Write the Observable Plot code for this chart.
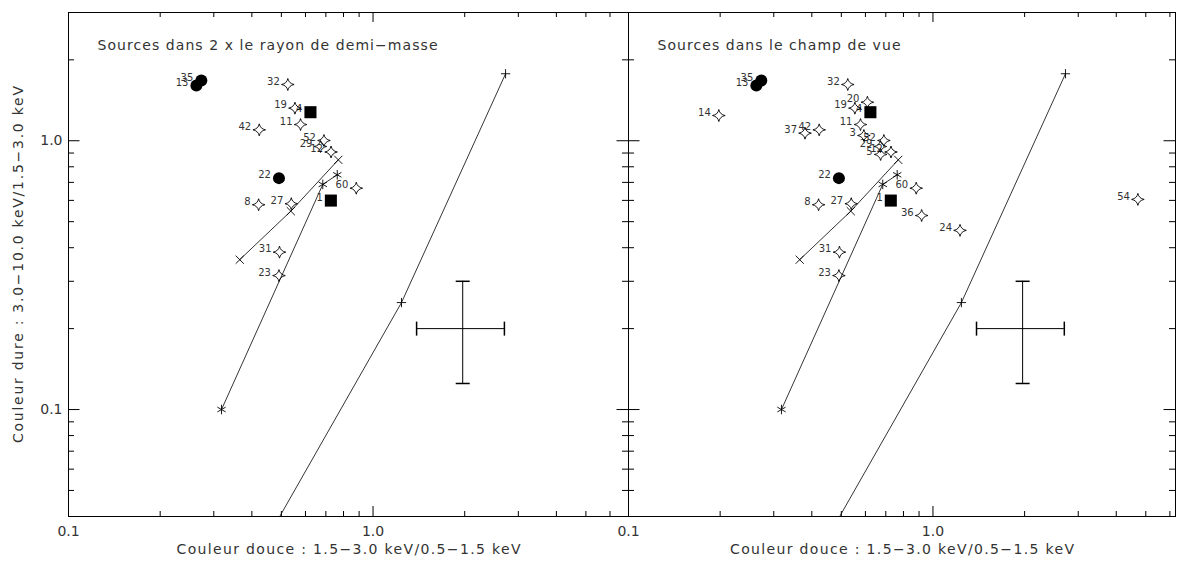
<!DOCTYPE html>
<html>
<head>
<meta charset="utf-8">
<script src="https://cdn.jsdelivr.net/npm/d3@7"></script>
<script src="https://cdn.jsdelivr.net/npm/@observablehq/plot@0.6"></script>
<style>
  html, body { margin: 0; padding: 0; background: #fff; overflow: hidden; }
  #wrap { position: relative; width: 1177px; height: 563px; }
  #wrap svg { position: absolute; top: 0; }
</style>
</head>
<body>
<div id="wrap"></div>
<script>
// ---------------- DATA ----------------
const sourceId   = ["13","35","32","19","4","11","42","52","29","12","22","60","1","8","27","31","23",
                    "14","37","20","3","5","36","24","54"];
const softColor  = [0.263,0.273,0.525,0.554,0.623,0.578,0.423,0.690,0.672,0.728,0.491,0.881,0.727,0.421,0.539,0.493,0.491,
                    0.198,0.380,0.609,0.593,0.673,0.918,1.227,4.71];
const hardColor  = [1.605,1.675,1.619,1.322,1.277,1.149,1.098,1.002,0.952,0.908,0.726,0.666,0.599,0.578,0.583,0.385,0.315,
                    1.241,1.067,1.391,1.046,0.889,0.527,0.464,0.605];
const sourceType = ["circle","circle","diamond","diamond","square","diamond","diamond","diamond","diamond","diamond","circle","diamond","square","diamond","diamond","diamond","diamond",
                    "diamond","diamond","diamond","diamond","diamond","diamond","diamond","diamond"];
const inHalfMass = [true,true,true,true,true,true,true,true,true,true,true,true,true,true,true,true,true,
                    false,false,false,false,false,false,false,false];

// model tracks
const trackTimesX = [0.365, 0.537, 0.769];
const trackTimesY = [0.361, 0.547, 0.849];
const trackStarX  = [0.318, 0.684, 0.763];
const trackStarY  = [0.100, 0.688, 0.747];
const trackPlusX  = [0.390, 1.240, 2.724];
const trackPlusY  = [0.025, 0.250, 1.775];

// typical error bar
const errX  = [1.97];
const errXlo = [1.39];
const errXhi = [2.70];
const errY  = [0.200];
const errYlo = [0.125];
const errYhi = [0.300];

// axes
const xMajorTicks = [0.1, 1];
const xTickLabels = ["0.1", "1.0"];
const xMinorTicks = [0.2,0.3,0.4,0.5,0.6,0.7,0.8,0.9,2,3,4,5,6];
const yMajorTicks = [0.1, 1];
const yTickLabels = ["0.1", "1.0"];
const yMinorTicks = [0.05,0.06,0.07,0.08,0.09,0.2,0.3,0.4,0.5,0.6,0.7,0.8,0.9,2];

const panelTitles = ["Sources dans 2 x le rayon de demi\u2212masse", "Sources dans le champ de vue"];
const xTitle = "Couleur douce : 1.5\u22123.0 keV/0.5\u22121.5 keV";
const yTitle = "Couleur dure : 3.0\u221210.0 keV/1.5\u22123.0 keV";

// ---------------- BUILD ----------------
const sources = sourceId.map((id, i) => ({id, x: softColor[i], y: hardColor[i], type: sourceType[i], core: inHalfMass[i]}));
const mkTrack = (xs, ys) => xs.map((x, i) => ({x, y: ys[i]}));
const trackTimes = mkTrack(trackTimesX, trackTimesY);
const trackStar  = mkTrack(trackStarX, trackStarY);
const trackPlus  = mkTrack(trackPlusX, trackPlusY);
const err = errX.map((x, i) => ({x, y: errY[i], xlo: errXlo[i], xhi: errXhi[i], ylo: errYlo[i], yhi: errYhi[i]}));

// custom symbols
const astroid = {
  draw(ctx, size) {
    const r = Math.sqrt(size / Math.PI), k = 0.16 * r, ry = 0.95 * r;
    ctx.moveTo(0, -ry);
    ctx.quadraticCurveTo(k, -k, r, 0);
    ctx.quadraticCurveTo(k, k, 0, ry);
    ctx.quadraticCurveTo(-k, k, -r, 0);
    ctx.quadraticCurveTo(-k, -k, 0, -ry);
    ctx.closePath();
  }
};
const vCap = {draw(ctx, size) { const r = Math.sqrt(size / Math.PI); ctx.moveTo(0, -r); ctx.lineTo(0, r); }};
const hCap = {draw(ctx, size) { const r = Math.sqrt(size / Math.PI); ctx.moveTo(-r, 0); ctx.lineTo(r, 0); }};

const HEIGHT = 563, MT = 12, MB = 47;
const textLengths = {};
textLengths[panelTitles[0]] = 340;
textLengths[panelTitles[1]] = 243;
textLengths[xTitle] = 344;
textLengths[yTitle] = 357;

function makePanel(cfg) {
  const W = cfg.width - cfg.marginLeft - cfg.marginRight;
  const H = HEIGHT - MT - MB;
  const pts = sources.filter(d => cfg.all || d.core);
  const ink = "black";
  const txt = "#333";
  const marks = [
    Plot.frame({stroke: ink}),
    // x ticks (bottom & top, inward)
    Plot.ruleX(xMinorTicks, {insetTop: H - 5, stroke: ink}),
    Plot.ruleX(xMinorTicks, {insetBottom: H - 5, stroke: ink}),
    Plot.ruleX(xMajorTicks, {insetTop: H - 10, stroke: ink}),
    Plot.ruleX(xMajorTicks, {insetBottom: H - 10, stroke: ink}),
    // y ticks (left & right, inward)
    Plot.ruleY(yMinorTicks, {insetRight: W - 6, stroke: ink}),
    Plot.ruleY(yMinorTicks, {insetLeft: W - 6, stroke: ink}),
    Plot.ruleY(yMajorTicks, {insetRight: W - 11.5, stroke: ink}),
    Plot.ruleY(yMajorTicks, {insetLeft: W - 11.5, stroke: ink}),
    // x tick labels
    Plot.text(xMajorTicks, {x: d => d, text: (d, i) => xTickLabels[i], frameAnchor: "bottom", dy: 19, fill: txt, fontSize: 14}),
    // x title
    Plot.text([xTitle], {text: d => d, frameAnchor: "bottom", dy: 37, textAnchor: "middle", fill: txt, fontSize: 14}),
    // panel title
    Plot.text([cfg.title], {text: d => d, frameAnchor: "top-left", dx: 29, dy: 28, textAnchor: "start", fill: txt, fontSize: 14}),
    // tracks
    Plot.line(trackTimes, {x: "x", y: "y", stroke: ink, strokeWidth: 0.8, clip: true}),
    Plot.line(trackStar,  {x: "x", y: "y", stroke: ink, strokeWidth: 0.8, clip: true}),
    Plot.line(trackPlus,  {x: "x", y: "y", stroke: ink, strokeWidth: 0.8, clip: true}),
    Plot.dot(trackTimes, {x: "x", y: "y", symbol: "times", r: 3.8, stroke: ink, strokeWidth: 0.9, clip: true}),
    Plot.dot(trackStar,  {x: "x", y: "y", symbol: "asterisk", r: 4.5, stroke: ink, strokeWidth: 0.9, clip: true}),
    Plot.dot(trackPlus,  {x: "x", y: "y", symbol: "plus", r: 3.1, stroke: ink, strokeWidth: 0.9, clip: true}),
    // error cross
    Plot.ruleY(err, {y: "y", x1: "xlo", x2: "xhi", stroke: ink}),
    Plot.ruleX(err, {x: "x", y1: "ylo", y2: "yhi", stroke: ink}),
    Plot.dot(err, {x: "xlo", y: "y", symbol: vCap, r: 7, stroke: ink}),
    Plot.dot(err, {x: "xhi", y: "y", symbol: vCap, r: 7, stroke: ink}),
    Plot.dot(err, {x: "x", y: "ylo", symbol: hCap, r: 7, stroke: ink}),
    Plot.dot(err, {x: "x", y: "yhi", symbol: hCap, r: 7, stroke: ink}),
    // source labels
    Plot.text(pts, {x: "x", y: "y", text: "id", dx: -8, dy: -3, textAnchor: "end", fontSize: 10, fill: txt}),
    // sources
    Plot.dot(pts.filter(d => d.type === "diamond"), {x: "x", y: "y", symbol: astroid, r: 6.3, stroke: ink, strokeWidth: 0.9, fill: "none"}),
    Plot.dot(pts.filter(d => d.type === "circle"), {x: "x", y: "y", symbol: "circle", r: 6, fill: ink, stroke: "none"}),
    Plot.dot(pts.filter(d => d.type === "square"), {x: "x", y: "y", symbol: "square", r: 6.8, fill: ink, stroke: "none"})
  ];
  if (cfg.yLabels) {
    marks.push(Plot.text(yMajorTicks, {y: d => d, text: (d, i) => yTickLabels[i], frameAnchor: "left", dx: -6, textAnchor: "end", fill: txt, fontSize: 14}));
    marks.push(Plot.text([yTitle], {text: d => d, frameAnchor: "left", dx: -49.5, rotate: -90, textAnchor: "middle", fill: txt, fontSize: 14}));
  }
  const svg = Plot.plot({
    width: cfg.width,
    height: HEIGHT,
    marginTop: MT,
    marginBottom: MB,
    marginLeft: cfg.marginLeft,
    marginRight: cfg.marginRight,
    x: {type: "log", domain: [0.1, cfg.xmax], axis: null},
    y: {type: "log", domain: [0.04, 3], axis: null},
    style: {fontFamily: "DejaVu Sans, sans-serif", fontSize: "14px", background: "transparent", overflow: "visible"},
    marks
  });
  d3.select(svg).selectAll("text").each(function() {
    const L = textLengths[this.textContent];
    if (L) { this.setAttribute("textLength", L); this.setAttribute("lengthAdjust", "spacing"); }
  });
  svg.style.left = cfg.left + "px";
  return svg;
}

const wrap = document.getElementById("wrap");
wrap.appendChild(makePanel({left: 0, width: 638, marginLeft: 68, marginRight: 10, xmax: 6.9, all: false, title: panelTitles[0], yLabels: true}));
wrap.appendChild(makePanel({left: 560, width: 617, marginLeft: 68, marginRight: 2, xmax: 6.26, all: true, title: panelTitles[1], yLabels: false}));
</script>
</body>
</html>
